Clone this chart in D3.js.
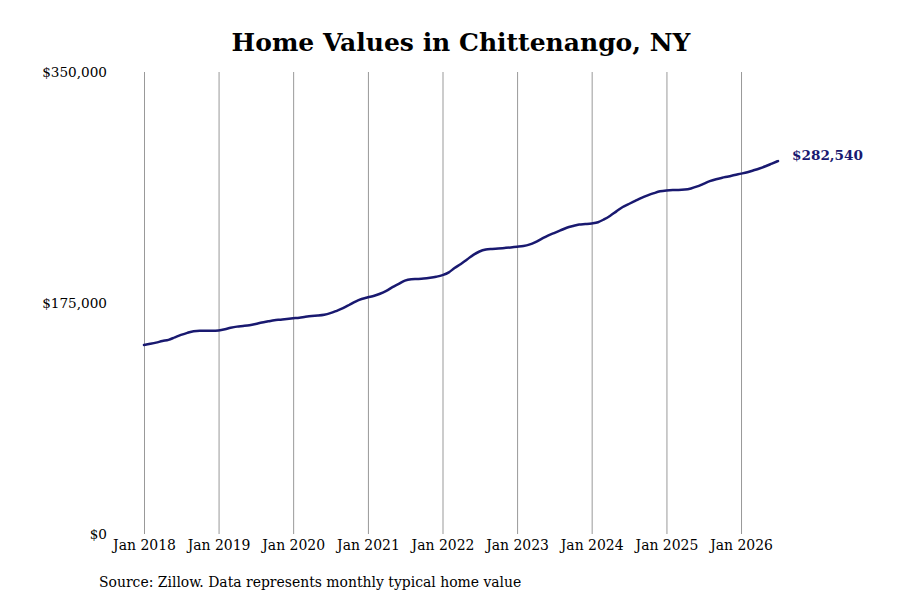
<!DOCTYPE html>
<html>
<head>
<meta charset="utf-8">
<script src="https://cdn.jsdelivr.net/npm/d3@7"></script>
<style>
  body { margin: 0; background: #fff; }
  svg { display: block; }
</style>
</head>
<body>
<div id="chart"></div>
<script>
// Monthly typical home value, Jan 2018 - Jul 2026
const startMonth = "2018-01";
const values = [
  143200, 144100, 145000, 146200, 147100, 149000, 150800, 152400, 153600, 153900, 153900, 153900,
  154200, 155100, 156200, 157100, 157600, 158200, 159100, 160200, 161100, 162000, 162400, 162900,
  163400, 163900, 164600, 165200, 165500, 166100, 167300, 169100, 171100, 173500, 176100, 178000,
  179300, 180500, 182000, 184200, 187000, 189500, 192000, 193000, 193200, 193500, 194100, 194900,
  196100, 198200, 201500, 204600, 208000, 211500, 214000, 215500, 216000, 216300, 216700, 217100,
  217600, 218200, 219200, 221100, 223600, 226100, 228000, 230000, 232000, 233300, 234400, 234800,
  235300, 236200, 238300, 241100, 244400, 247700, 250000, 252300, 254600, 256500, 258200, 259600,
  260300, 260600, 260600, 260900, 261800, 263300, 265300, 267300, 268800, 269900, 270900, 272000,
  273000, 274100, 275400, 276900, 278600, 280600, 282540
];
const yTicks = [0, 175000, 350000];
const xTickYears = [2018, 2019, 2020, 2021, 2022, 2023, 2024, 2025, 2026];

const title = "Home Values in Chittenango, NY";
const source = "Source: Zillow. Data represents monthly typical home value";

const parseMonth = d3.timeParse("%Y-%m");
const data = values.map((v, i) => ({ date: d3.timeMonth.offset(parseMonth(startMonth), i), value: v }));

const width = 900, height = 600;
const margin = { top: 72, right: 122, bottom: 66, left: 144 };
const lineColor = "#191970";

const svg = d3.select("#chart")
  .append("svg")
  .attr("width", width)
  .attr("height", height);

const x = d3.scaleTime()
  .domain(d3.extent(data, d => d.date))
  .range([margin.left, width - margin.right]);

const y = d3.scaleLinear()
  .domain([0, 350000])
  .range([height - margin.bottom, margin.top]);

// Title
svg.append("text")
  .attr("x", 461)
  .attr("y", 51)
  .attr("text-anchor", "middle")
  .style("font-family", "'DejaVu Serif', serif")
  .style("font-weight", "bold")
  .style("font-size", "25px")
  .text(title);

// Vertical grid lines with labels
const xAxis = svg.append("g")
  .attr("transform", `translate(0,${height - margin.bottom})`)
  .call(d3.axisBottom(x)
    .tickValues(xTickYears.map(yr => new Date(yr, 0, 1)))
    .tickSize(-(height - margin.top - margin.bottom))
    .tickPadding(5)
    .tickFormat(d3.timeFormat("Jan %Y")));
xAxis.select(".domain").remove();
xAxis.selectAll("line").attr("stroke", "#999").attr("stroke-width", 1);
xAxis.selectAll("text")
  .attr("fill", "#000")
  .style("font-family", "'DejaVu Serif Condensed', 'DejaVu Serif', serif")
  .style("font-stretch", "condensed")
  .style("font-size", "15.5px");

// Y axis labels only
const yAxis = svg.append("g")
  .attr("transform", `translate(107,0)`)
  .call(d3.axisLeft(y)
    .tickValues(yTicks)
    .tickSize(0)
    .tickPadding(0)
    .tickFormat(d => "$" + d3.format(",")(d)));
yAxis.select(".domain").remove();
yAxis.selectAll("text")
  .attr("fill", "#000")
  .style("font-family", "'DejaVu Serif', serif")
  .style("font-size", "13.6px");

// Line
const line = d3.line()
  .x(d => x(d.date))
  .y(d => y(d.value))
  .curve(d3.curveMonotoneX);

svg.append("path")
  .datum(data)
  .attr("fill", "none")
  .attr("stroke", lineColor)
  .attr("stroke-width", 2.5)
  .attr("stroke-linecap", "round")
  .attr("d", line);

// End label
const last = data[data.length - 1];
svg.append("text")
  .attr("x", x(last.date) + 14)
  .attr("y", y(last.value) - 6)
  .attr("dy", "0.35em")
  .attr("fill", lineColor)
  .style("font-family", "'DejaVu Serif', serif")
  .style("font-weight", "bold")
  .style("font-size", "13.6px")
  .text("$" + d3.format(",")(last.value));

// Source note
svg.append("text")
  .attr("x", 99)
  .attr("y", 587)
  .style("font-family", "'DejaVu Serif Condensed', 'DejaVu Serif', serif")
  .style("font-stretch", "condensed")
  .style("font-size", "15.5px")
  .text(source);
</script>
</body>
</html>
